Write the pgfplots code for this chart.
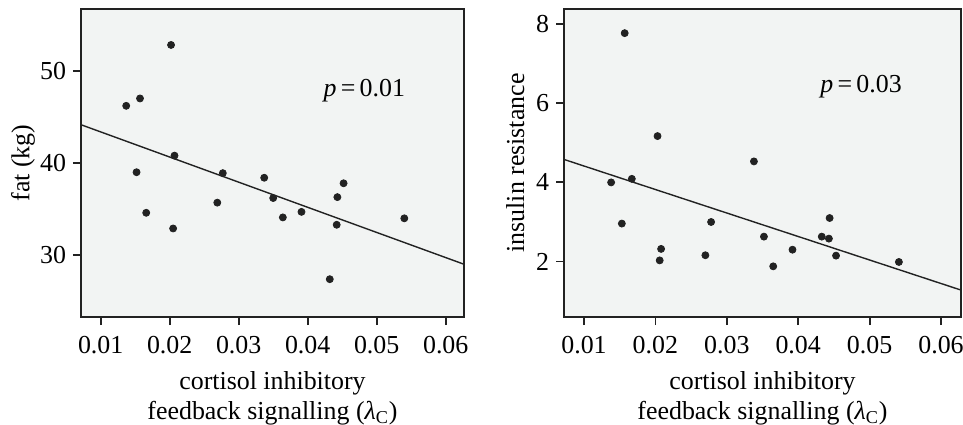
\documentclass[border=0pt]{standalone}
\usepackage{fontspec}
\setmainfont{Liberation Serif}
\usepackage{pgfplots}
\pgfplotsset{compat=1.18}

\definecolor{panelbg}{HTML}{F2F4F3}
\definecolor{ink}{HTML}{222222}

\pgfplotsset{
  panel/.style={
    scale only axis,
    height=154bp,
    axis background/.style={fill=panelbg},
    axis line style={ink, line width=0.9bp},
    tick style={ink, line width=0.9bp},
    tick align=outside, major tick length=4bp,
    xtick={0.01,0.02,...,0.06},
    scaled x ticks=false,
    xticklabels={0.01,0.02,0.03,0.04,0.05,0.06},
    xticklabel style={yshift=-2bp},
    xtick pos=bottom, ytick pos=left,
    font=\fontsize{13}{15}\selectfont,
    /pgf/number format/assume math mode=true,
    xlabel={cortisol inhibitory\\feedback signalling (\textit{λ}\textsubscript{C})},
    xlabel style={align=center, inner sep=0pt, anchor=north,
      at={(axis description cs:0.5,0)}, yshift=-27bp},
    every axis plot/.append style={ink},
  },
  dots/.style={only marks, mark=*, mark size=1.75bp, mark options={fill=ink, draw=ink}},
  fit/.style={no marks, line width=0.7bp},
}

\begin{document}
\begin{tikzpicture}
  \path[use as bounding box] (0,0) rectangle (481.5bp,212.5bp);

  % left: fat
  \begin{axis}[panel,
    at={(40.5bp,54bp)}, anchor=south west, width=191.5bp,
    xmin=0.00715, xmax=0.06265, ymin=23.3, ymax=56.7,
    ytick={30,40,50},
    ylabel={fat (kg)},
    ylabel style={at={(axis description cs:-0.151,0.5)}, anchor=center, rotate=0},
  ]
    \addplot[dots] coordinates {
      (0.0137,46.2) (0.0157,47.0) (0.0202,52.8) (0.0207,40.8) (0.0152,39.0)
      (0.0166,34.6) (0.0205,32.9) (0.0269,35.7) (0.0277,38.9) (0.0337,38.4)
      (0.0350,36.2) (0.0364,34.1) (0.0391,34.7) (0.0432,27.4) (0.0442,33.3)
      (0.0443,36.3) (0.0452,37.8) (0.0540,34.0)
    };
    \addplot[fit] coordinates {(0.00715,44.15) (0.06265,29.02)};
    \node at (axis cs:0.0482,47.9) {\textit{p}\,=\,0.01};
  \end{axis}

  % right: insulin resistance
  \begin{axis}[panel,
    at={(282bp,54bp)}, anchor=south west, width=198.5bp,
    xmin=0.0072, xmax=0.0628, ymin=0.60, ymax=8.38,
    ytick={2,4,6,8},
    ylabel={insulin resistance},
    ylabel style={at={(axis description cs:-0.123,0.5)}, anchor=center, rotate=0},
  ]
    \addplot[dots] coordinates {
      (0.0157,7.77) (0.0203,5.17) (0.0138,4.00) (0.0167,4.09) (0.0153,2.96)
      (0.0208,2.32) (0.0206,2.03) (0.0278,3.00) (0.0270,2.16) (0.0338,4.53)
      (0.0352,2.63) (0.0365,1.88) (0.0392,2.30) (0.0433,2.63) (0.0444,3.10)
      (0.0443,2.58) (0.0453,2.15) (0.0541,1.99)
    };
    \addplot[fit] coordinates {(0.0072,4.58) (0.0628,1.28)};
    \node at (axis cs:0.0488,6.42) {\textit{p}\,=\,0.03};
  \end{axis}
\end{tikzpicture}
\end{document}
